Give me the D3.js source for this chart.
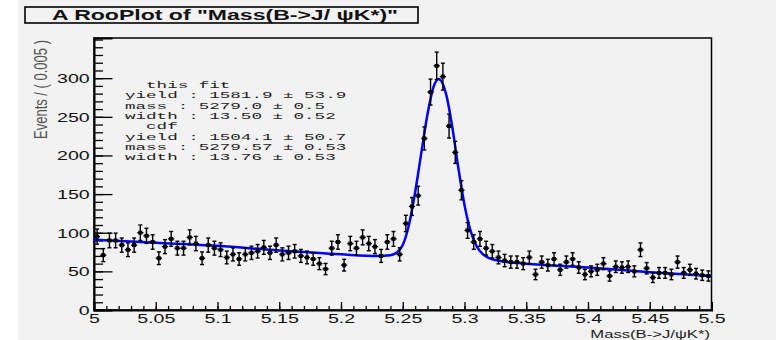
<!DOCTYPE html>
<html>
<head>
<meta charset="utf-8">
<script src="https://cdn.jsdelivr.net/npm/d3@7"></script>
<style>
  body { margin: 0; background: #ffffff; }
  text { font-family: "Liberation Sans", Arial, sans-serif; }
</style>
</head>
<body>
<script>
// histogram: 100 bins of 0.005 from 5.0 to 5.5
var binStart = 5.0;
var binWidth = 0.005;
var counts = [95, 71, 90, 90, 84, 78, 84, 100, 96, 88,
              67, 82, 92, 80, 80, 94, 86, 67, 84, 80,
              78, 68, 72, 66, 72, 74, 76, 81, 74, 84,
              72, 74, 76, 70, 68, 66, 60, 53, 80, 88,
              58, 86, 80, 94, 86, 82, 70, 88, 92, 72,
              112, 134, 148, 222, 282, 316, 302, 238, 204, 155,
              103, 88, 92, 80, 76, 68, 64, 62, 62, 60,
              68, 46, 62, 58, 66, 52, 62, 66, 55, 46,
              50, 52, 60, 44, 56, 55, 56, 50, 78, 54,
              42, 48, 48, 46, 62, 48, 52, 47, 45, 44];

// fit curve
var fitMass = [5.0, 5.05, 5.1, 5.15, 5.2, 5.23, 5.24, 5.245, 5.25, 5.255, 5.26, 5.265, 5.27, 5.275,
               5.279, 5.285, 5.29, 5.295, 5.3, 5.305, 5.31, 5.315, 5.32, 5.33, 5.35, 5.4, 5.45, 5.5];
var fitVal = [91, 87, 83, 77, 72, 70, 71, 74, 84, 110, 152, 203, 253, 289,
              299, 280, 238, 184, 136, 102, 82, 72, 67, 63, 60, 55, 49, 44];

var xTicks = [5, 5.05, 5.1, 5.15, 5.2, 5.25, 5.3, 5.35, 5.4, 5.45, 5.5];
var yTicks = [0, 50, 100, 150, 200, 250, 300];

var statLines = ["  this fit",
                 "yield : 1581.9 \u00b1 53.9",
                 "mass : 5279.0 \u00b1 0.5",
                 "width : 13.50 \u00b1 0.52",
                 "  cdf",
                 "yield : 1504.1 \u00b1 50.7",
                 "mass : 5279.57 \u00b1 0.53",
                 "width : 13.76 \u00b1 0.53"];

var w = 776;
var h = 340;
var margin = {top: 38, right: 64, bottom: 30, left: 94};
var stretch = 1.45;

var svg = d3.select("body")
            .append("svg")
            .attr("width", w)
            .attr("height", h);

// grey canvas
svg.append("rect")
   .attr("x", 18)
   .attr("y", 0)
   .attr("width", w - 18)
   .attr("height", h)
   .style("fill", "#f2f2f2");

var xScale = d3.scaleLinear()
               .domain([5, 5.5])
               .range([margin.left, w - margin.right - 0.5]);

var yScale = d3.scaleLinear()
               .domain([0, 352])
               .range([h - margin.bottom, margin.top]);

// title box
svg.append("rect")
   .attr("x", 25)
   .attr("y", 7)
   .attr("width", 393)
   .attr("height", 16)
   .style("fill", "#f2f2f2")
   .style("stroke", "#000")
   .style("stroke-width", 1.6);

svg.append("text")
   .attr("x", 52)
   .attr("y", 20)
   .attr("textLength", 346)
   .attr("lengthAdjust", "spacingAndGlyphs")
   .style("font-size", "14px")
   .style("font-weight", "bold")
   .style("fill", "#111")
   .text("A RooPlot of \"Mass(B->J/ \u03c8K*)\"");

// frame
svg.append("rect")
   .attr("x", xScale(5))
   .attr("y", yScale(352))
   .attr("width", xScale(5.5) - xScale(5))
   .attr("height", yScale(0) - yScale(352))
   .style("fill", "none")
   .style("stroke", "#000")
   .style("stroke-width", 1.5);

// minor ticks
var yMinor = d3.range(0, 351, 10);
svg.append("g")
   .attr("class", "axis")
   .attr("transform", "translate(" + xScale(5) + ",0)")
   .call(d3.axisLeft(yScale).tickValues(yMinor).tickSize(-9).tickFormat(""))
   .call(function(g) { g.select(".domain").remove(); });

var xMinor = d3.range(0, 51).map(function(i) { return 5 + i * 0.01; });
svg.append("g")
   .attr("class", "axis")
   .attr("transform", "translate(0," + yScale(0) + ")")
   .call(d3.axisBottom(xScale).tickValues(xMinor).tickSize(-4).tickFormat(""))
   .call(function(g) { g.select(".domain").remove(); });

// major ticks + labels
var yAxis = svg.append("g")
   .attr("transform", "translate(" + xScale(5) + ",0)")
   .call(d3.axisLeft(yScale).tickValues(yTicks).tickSize(-18.5).tickPadding(3));

var xAxis = svg.append("g")
   .attr("transform", "translate(0," + yScale(0) + ")")
   .call(d3.axisBottom(xScale).tickValues(xTicks).tickSize(-8).tickPadding(3)
          .tickFormat(function(d) { return d3.format("")(+d.toFixed(2)); }));

[yAxis, xAxis].forEach(function(g) {
  g.select(".domain").style("stroke-width", 2);
  g.selectAll("line").style("stroke-width", 1.3);
  g.selectAll("text")
   .style("font-size", "13.5px")
   .style("font-family", "'Liberation Sans', Arial, sans-serif")
   .style("fill", "#111")
   .attr("transform", "scale(" + stretch + ",1)");
});
svg.selectAll(".axis line").style("stroke-width", 1.3);

// axis titles
svg.append("text")
   .attr("transform", "translate(" + (w - margin.right - 2) + ",338) scale(" + stretch + ",1)")
   .style("text-anchor", "end")
   .style("font-size", "11.5px")
   .style("fill", "#222")
   .text("Mass(B->J/\u03c8K*)");

svg.append("text")
   .attr("transform", "translate(47,40) scale(" + stretch + ",1) rotate(-90)")
   .style("text-anchor", "end")
   .style("font-size", "13px")
   .style("fill", "#555")
   .text("Events / ( 0.005 )");

// fit curve
var line = d3.line()
             .x(function(d) { return xScale(d[0]); })
             .y(function(d) { return yScale(d[1]); })
             .curve(d3.curveMonotoneX);

svg.append("path")
   .datum(fitMass.map(function(m, i) { return [m, fitVal[i]]; }))
   .attr("d", line)
   .style("fill", "none")
   .style("stroke", "#0000ff")
   .style("stroke-width", 2.5);

// data points with error bars
var points = counts.map(function(n, i) {
  return {lo: binStart + i * binWidth, hi: binStart + (i + 1) * binWidth,
          mid: binStart + (i + 0.5) * binWidth, n: n, err: Math.sqrt(n)};
});

var pts = svg.selectAll(".pt")
             .data(points)
             .enter().append("g")
             .attr("class", "pt")
             .style("stroke", "#000")
             .style("stroke-width", 1.4);

pts.append("line")
   .attr("x1", function(d) { return xScale(d.lo); })
   .attr("x2", function(d) { return xScale(d.hi); })
   .attr("y1", function(d) { return yScale(d.n); })
   .attr("y2", function(d) { return yScale(d.n); });

pts.append("line")
   .attr("x1", function(d) { return xScale(d.mid); })
   .attr("x2", function(d) { return xScale(d.mid); })
   .attr("y1", function(d) { return yScale(d.n - d.err); })
   .attr("y2", function(d) { return yScale(d.n + d.err); });

[-1, 1].forEach(function(s) {
  pts.append("line")
     .attr("x1", function(d) { return xScale(d.mid) - 2; })
     .attr("x2", function(d) { return xScale(d.mid) + 2; })
     .attr("y1", function(d) { return yScale(d.n + s * d.err); })
     .attr("y2", function(d) { return yScale(d.n + s * d.err); });
});

pts.append("rect")
   .attr("x", function(d) { return xScale(d.mid) - 2; })
   .attr("y", function(d) { return yScale(d.n) - 2; })
   .attr("width", 4)
   .attr("height", 4)
   .style("fill", "#000")
   .style("stroke", "none");

// fit results text
svg.selectAll(".stat")
   .data(statLines)
   .enter().append("text")
   .attr("class", "stat")
   .attr("transform", function(d, i) {
     return "translate(125," + (88 + i * 10.3) + ") scale(1.85,1)";
   })
   .style("font-family", "'Liberation Mono', 'DejaVu Sans Mono', monospace")
   .style("font-size", "9.5px")
   .style("fill", "#222")
   .style("white-space", "pre")
   .attr("xml:space", "preserve")
   .text(function(d) { return d; });
</script>
</body>
</html>
